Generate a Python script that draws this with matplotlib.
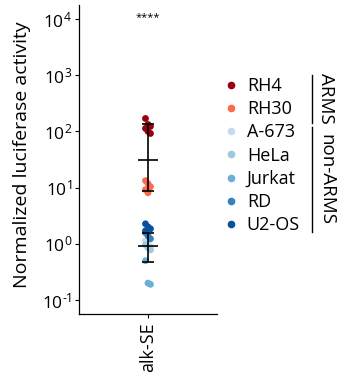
import numpy as np
import matplotlib
matplotlib.use("Agg")
import matplotlib.pyplot as plt

plt.rcParams['font.family'] = ['Open Sans', 'DejaVu Sans']
plt.rcParams['mathtext.fontset'] = 'custom'
plt.rcParams['mathtext.rm'] = 'Open Sans'
plt.rcParams['mathtext.it'] = 'Open Sans:italic'
plt.rcParams['mathtext.bf'] = 'Open Sans:bold'

# ---- data ----
category = "alk-SE"
cell_lines = ["RH4", "RH30", "A-673", "HeLa", "Jurkat", "RD", "U2-OS"]
colors = ["#99000d", "#fb6a4a", "#c6dbef", "#9ecae1", "#6baed6", "#3182bd", "#08519c"]
RH4 = [170, 133, 123, 113, 100, 92]
RH30 = [13.3, 11.8, 10.4, 9.2, 8.1]
A673 = [1.13, 1.0, 0.88]
HeLa = [0.96, 0.85, 0.78]
Jurkat = [0.5, 0.2, 0.19]
RD = [1.57, 1.39, 1.23]
U2OS = [2.27, 2.0, 1.85, 1.7]
values = [RH4, RH30, A673, HeLa, Jurkat, RD, U2OS]

group_names = ["ARMS", "non-ARMS"]
group_center = [31.6, 0.92]
group_low = [8.8, 0.48]
group_high = [133, 1.57]
significance = "****"

yticks = [1e-1, 1e0, 1e1, 1e2, 1e3, 1e4]
ytick_labels = [r"10$^{\text{-1}}$", r"10$^{0}$", r"10$^{1}$", r"10$^{2}$", r"10$^{3}$", r"10$^{4}$"]

# ---- figure ----
fig = plt.figure(figsize=(3.39, 3.83), dpi=100)
ax = fig.add_axes([0.233, 0.180, 0.407, 0.807])
ax.set_yscale("log")
ax.set_ylim(10 ** -1.25, 10 ** 4.25)
ax.set_xlim(-0.5, 0.5)

for name, vals, c in zip(cell_lines, values, colors):
    v = np.array(vals, dtype=float)
    offs = np.array([((i % 3) - 1) * 0.018 for i in range(len(v))])
    ax.scatter(offs, v, s=24, color=c, edgecolors="none", zorder=2, label=name)

for gc, gl, gh in zip(group_center, group_low, group_high):
    ax.errorbar([0], [gc], yerr=[[gc - gl], [gh - gc]], fmt="none", ecolor="black",
                elinewidth=1.2, capsize=4.5, capthick=1.2, zorder=3)
    ax.hlines(gc, -0.072, 0.072, color="black", lw=1.2, zorder=3)

ax.text(0, 10 ** 4.02, significance, ha="center", va="center", fontsize=8)

ax.set_yticks(yticks)
ax.set_yticklabels(ytick_labels)
ax.yaxis.set_minor_locator(matplotlib.ticker.NullLocator())
ax.set_xticks([0])
ax.set_xticklabels([category], rotation=90)
ax.tick_params(axis="y", labelsize=12.5, length=3, width=0.8, pad=2)
ax.tick_params(axis="x", labelsize=13, length=3, width=0.8, pad=3)
ax.set_ylabel("Normalized luciferase activity", fontsize=14)
ax.yaxis.set_label_coords(-0.35, 0.515)
for s in ["top", "right"]:
    ax.spines[s].set_visible(False)
for s in ["left", "bottom"]:
    ax.spines[s].set_linewidth(0.9)

# legend
handles = [plt.Line2D([], [], marker="o", ls="none", color=c, markersize=4.5) for c in colors]
leg = fig.legend(handles, cell_lines, loc="upper left", bbox_to_anchor=(0.648, 0.818),
                 frameon=False, fontsize=13, handlelength=0.5, handletextpad=0.6,
                 labelspacing=0.29, borderaxespad=0)

# group brackets
fig.add_artist(plt.Line2D([312 / 339, 312 / 339], [1 - 75 / 383, 1 - 123 / 383], color="black", lw=1))
fig.add_artist(plt.Line2D([312 / 339, 312 / 339], [1 - 127 / 383, 1 - 232 / 383], color="black", lw=1))
fig.text(326 / 339, 1 - 98 / 383, group_names[0], rotation=-90, ha="center", va="center", fontsize=13.5)
fig.text(326 / 339, 1 - 180 / 383, group_names[1], rotation=-90, ha="center", va="center", fontsize=13.5)

fig.savefig("out.png", dpi=100)
